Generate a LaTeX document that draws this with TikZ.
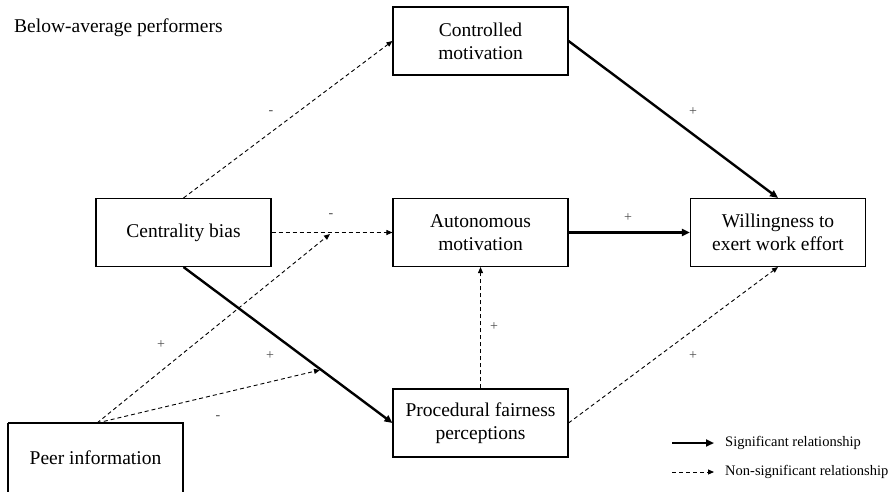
\documentclass[tikz,border=0pt]{standalone}
\usepackage{fontspec}
\setmainfont{Liberation Serif}
\usetikzlibrary{arrows.meta}
\begin{document}
\begin{tikzpicture}[x=1pt,y=-1pt,
  box/.style={draw,line width=1.1pt,rectangle,minimum width=175pt,minimum height=68pt,align=center,inner sep=0pt,font=\fontsize{19.5}{23}\selectfont},
  sig/.style={line width=2.4pt,-{Triangle[length=8pt,width=7pt]}},
  nsig/.style={line width=0.9pt,dash pattern=on 4pt off 3pt,-{Triangle[length=6pt,width=5pt]}},
  lab/.style={font=\fontsize{14}{16}\selectfont,inner sep=0pt,text=black!70}]
\useasboundingbox (0,0) rectangle (895,491);
\fill[white] (0,0) rectangle (895,491);
\node[anchor=west,font=\fontsize{19.5}{23}\selectfont,inner sep=0pt] (title) at (14,28) {Below-average performers};
\node[box] (ctrl) at (480.5,41) {Controlled\\motivation};
\node[box] (cent) at (183.5,232.5) {Centrality bias};
\node[box] (auto) at (480.5,232.5) {Autonomous\\motivation};
\node[box] (will) at (778,232.5) {Willingness to\\exert work effort};
\node[box] (proc) at (480.5,423) {Procedural fairness\\perceptions};
\draw[line width=1.1pt] (8,423) -- (8,500) (183,500) -- (183,423) -- (8,423);
\node[inner sep=0pt,font=\fontsize{19.5}{23}\selectfont] (peer) at (95.5,458) {Peer information};
\coordinate (peertop) at (97,423);
\coordinate (t1) at (330,234);
\coordinate (t2) at (320,370);
% connectors
\draw[nsig] (cent.north) -- (ctrl.west);
\draw[nsig] (cent.east) -- (auto.west);
\draw[sig] (cent.south) -- (proc.west);
\draw[nsig] (peertop) -- (t1);
\draw[nsig] (peertop) -- (t2);
\draw[sig] (ctrl.east) -- (will.north);
\draw[sig] (auto.east) -- (will.west);
\draw[nsig] (proc.north) -- (auto.south);
\draw[nsig] (proc.east) -- (will.south);
% labels
\node[lab] (l1) at (271,113) {-};
\node[lab] (l2) at (331,216) {-};
\node[lab] (l3) at (161,345) {+};
\node[lab] (l4) at (270,356) {+};
\node[lab] (l5) at (218,418) {-};
\node[lab] (l6) at (693,112) {+};
\node[lab] (l7) at (628,218) {+};
\node[lab] (l8) at (494,327) {+};
\node[lab] (l9) at (693,356) {+};
% legend
\coordinate (s1) at (672,443);
\coordinate (s2) at (714,443);
\coordinate (n1) at (672,472);
\coordinate (n2) at (714,472);
\draw[sig,line width=2pt] (s1) -- (s2);
\draw[nsig] (n1) -- (n2);
\node[anchor=west,inner sep=0pt,font=\fontsize{14.5}{17}\selectfont] (sigt) at (725,443) {Significant relationship};
\node[anchor=west,inner sep=0pt,font=\fontsize{14.5}{17}\selectfont] (nsigt) at (725,472) {Non-significant relationship};
\end{tikzpicture}
\end{document}
